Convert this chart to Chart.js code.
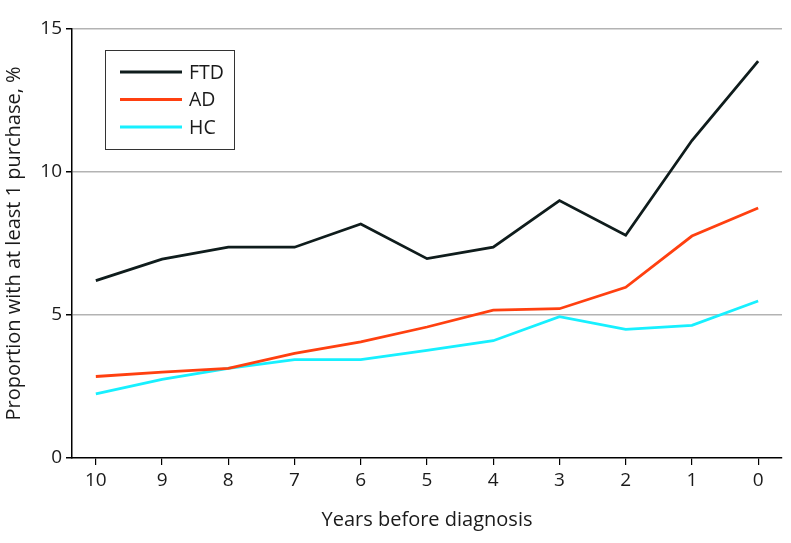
<!DOCTYPE html>
<html>
<head>
<meta charset="utf-8">
<script src="https://cdn.jsdelivr.net/npm/chart.js@4.4.1/dist/chart.umd.min.js"></script>
<style>
  html, body { margin: 0; padding: 0; background: #fff; }
  #wrap { width: 791px; height: 543px; }
</style>
</head>
<body>
<div id="wrap"><canvas id="purchases"></canvas></div>
<script>
// years before diagnosis, and proportion (%) with at least 1 purchase
const years = [10, 9, 8, 7, 6, 5, 4, 3, 2, 1, 0];
const ftd = [6.2, 6.95, 7.37, 7.37, 8.18, 6.97, 7.37, 9.0, 7.79, 11.1, 13.88];
const ad  = [2.85, 3.0, 3.13, 3.66, 4.06, 4.58, 5.17, 5.22, 5.97, 7.76, 8.74];
const hc  = [2.24, 2.75, 3.13, 3.44, 3.44, 3.76, 4.1, 4.94, 4.5, 4.64, 5.49];
const yTicks = [0, 5, 10, 15];

const FONT = '"Open Sans", sans-serif';
const INK = '#1a1a1a';

function pts(vals) {
  return vals.map((v, i) => ({ x: years[i], y: v }));
}

// boxed legend in the upper left of the plot
const boxLegend = {
  id: 'boxLegend',
  afterDraw(chart) {
    const ctx = chart.ctx;
    const a = chart.chartArea;
    const x0 = a.left + 33, y0 = a.top + 21, w = 129, h = 99;
    ctx.save();
    ctx.strokeStyle = '#333';
    ctx.lineWidth = 1;
    ctx.strokeRect(x0 + 0.5, y0 + 0.5, w, h);
    ctx.font = '19.5px ' + FONT;
    ctx.textBaseline = 'middle';
    chart.data.datasets.forEach((ds, i) => {
      const yy = y0 + 22 + i * 27.5;
      ctx.strokeStyle = ds.borderColor;
      ctx.lineWidth = 3;
      ctx.beginPath();
      ctx.moveTo(x0 + 15, yy);
      ctx.lineTo(x0 + 77, yy);
      ctx.stroke();
      ctx.fillStyle = INK;
      ctx.fillText(ds.label, x0 + 84, yy + 1);
    });
    ctx.restore();
  }
};

new Chart(document.getElementById('purchases').getContext('2d'), {
  type: 'line',
  data: {
    datasets: [
      { label: 'FTD', data: pts(ftd), borderColor: '#0f1c1c' },
      { label: 'AD',  data: pts(ad),  borderColor: '#ff4010' },
      { label: 'HC',  data: pts(hc),  borderColor: '#17f0ff' }
    ]
  },
  options: {
    responsive: true,
    maintainAspectRatio: false,
    animation: false,
    layout: { padding: { top: 29, right: 9, left: 0, bottom: 0 } },
    elements: {
      line: { borderWidth: 2.8, tension: 0, borderJoinStyle: 'miter' },
      point: { radius: 0, hoverRadius: 0 }
    },
    plugins: { legend: { display: false }, tooltip: { enabled: false } },
    scales: {
      x: {
        type: 'linear',
        reverse: true,
        min: -0.36,
        max: 10.36,
        afterBuildTicks: s => { s.ticks = years.map(v => ({ value: v })); },
        afterFit: s => { s.height = 85; },
        border: { color: '#000', width: 1.5 },
        grid: { drawOnChartArea: false, tickLength: 7, tickColor: '#000', lineWidth: 1.2 },
        ticks: { color: INK, font: { family: FONT, size: 19 }, padding: 4, maxRotation: 0 },
        title: { display: true, text: 'Years before diagnosis', color: INK, font: { family: FONT, size: 20 }, padding: { top: 4, bottom: 11 } }
      },
      y: {
        min: 0,
        max: 15,
        afterBuildTicks: s => { s.ticks = yTicks.map(v => ({ value: v })); },
        afterFit: s => { s.width = 72; },
        border: { color: '#000', width: 1.5 },
        grid: {
          color: c => (c.tick && c.tick.value === 0 ? 'rgba(0,0,0,0)' : '#b3b3b3'),
          lineWidth: 1.5,
          tickLength: 6,
          tickColor: '#000'
        },
        ticks: { color: INK, font: { family: FONT, size: 19 }, padding: 4 },
        title: { display: true, text: 'Proportion with at least 1 purchase, %', color: INK, font: { family: FONT, size: 20 }, padding: { top: 2, bottom: 4 } }
      }
    }
  },
  plugins: [boxLegend]
});
</script>
</body>
</html>
